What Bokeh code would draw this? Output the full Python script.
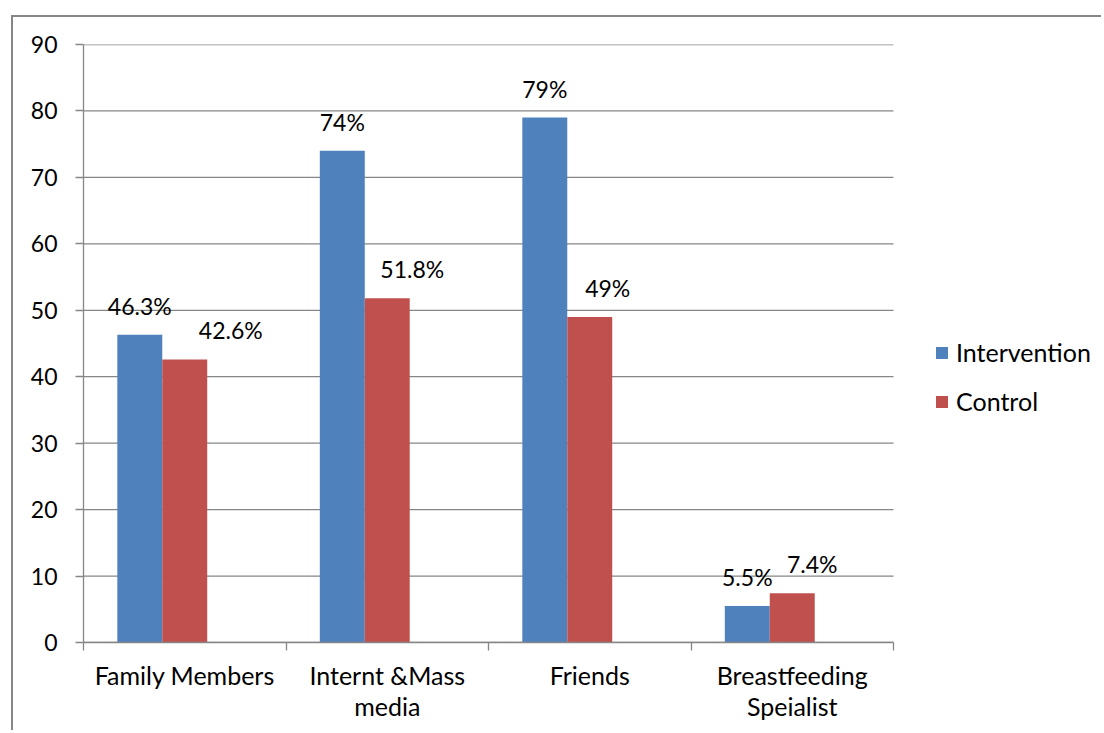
from bokeh.plotting import figure
from bokeh.models import (Range1d, FixedTicker, ColumnDataSource, Legend,
                          LegendItem)
from bokeh.core.properties import value
from bokeh.embed import file_html
from bokeh.resources import INLINE

# Sources of breastfeeding information, % of mothers per group
categories = ["Family Members", "Internt &Mass\nmedia", "Friends", "Breastfeeding\nSpeialist"]
intervention = [46.3, 74, 79, 5.5]
control = [42.6, 51.8, 49, 7.4]
y_ticks = [0, 10, 20, 30, 40, 50, 60, 70, 80, 90]

# small horizontal nudges of the control labels (px)
control_label_shift = [46, 25, 18, 20]

FONT = "Lato"
FS = "23px"
FS_CAT = "25px"
GRAY = "#868686"
BLUE = "#4F81BD"
RED = "#C0504D"

W, H = 1090, 715
BORDER_L, BORDER_R, BORDER_T, BORDER_B = 70, 10, 27, 90
CAT_PX = 202.5  # width of one category on screen

n = len(categories)
slot = 0.222  # bar width in category units
centers = [i + 0.5 for i in range(n)]
# the frame runs on past the last category to hold the legend
x_end = (W - BORDER_L - BORDER_R) / CAT_PX

src_i = ColumnDataSource(dict(
    x=[c - slot for c in centers], top=intervention,
    label=[f"{v:g}%" for v in intervention], dx=[0] * n))
src_c = ColumnDataSource(dict(
    x=centers, top=control,
    label=[f"{v:g}%" for v in control], dx=control_label_shift))

p = figure(width=W, height=H, x_range=Range1d(0, x_end), y_range=Range1d(0, 90),
           output_backend="svg", toolbar_location=None,
           min_border_left=BORDER_L, min_border_right=BORDER_R,
           min_border_top=BORDER_T, min_border_bottom=BORDER_B)
p.margin = (15, 0, 0, 11)
p.styles = {"border-top": f"2px solid {GRAY}", "border-left": f"2px solid {GRAY}"}
p.outline_line_color = None
p.background_fill_color = "white"
p.border_fill_color = "white"

# horizontal gridlines over the category span only
p.segment(x0=[0] * len(y_ticks), x1=[n] * len(y_ticks), y0=y_ticks, y1=y_ticks,
          line_color=GRAY, line_width=1.3)

r_i = p.vbar(x="x", top="top", width=slot, source=src_i, fill_color=BLUE,
             line_color=None)
r_c = p.vbar(x="x", top="top", width=slot, source=src_c, fill_color=RED,
             line_color=None)

for src in (src_i, src_c):
    p.text(x="x", y="top", text="label", source=src, x_offset="dx", y_offset=-29,
           text_align="center", text_baseline="alphabetic",
           text_font=value(FONT), text_font_size=FS, text_color="black")

# y axis
yax = p.yaxis[0]
yax.ticker = FixedTicker(ticks=y_ticks)
yax.axis_line_color = GRAY
yax.axis_line_width = 1.3
yax.major_tick_line_color = GRAY
yax.major_tick_line_width = 1.3
yax.major_tick_out = 8
yax.major_tick_in = 0
yax.minor_tick_line_color = None
yax.major_label_standoff = 18
yax.major_label_text_font = FONT
yax.major_label_text_font_size = FS
yax.major_label_text_color = "black"

# x axis: labels centred in each category, ticks on the category borders
xax = p.xaxis[0]
xax.bounds = (0, n)
xax.ticker = FixedTicker(ticks=centers, minor_ticks=list(range(n + 1)))
xax.major_label_overrides = {c: lab for c, lab in zip(centers, categories)}
xax.axis_line_color = GRAY
xax.axis_line_width = 1.3
xax.major_tick_line_color = None
xax.major_tick_out = 0
xax.major_tick_in = 0
xax.minor_tick_line_color = GRAY
xax.minor_tick_line_width = 1.3
xax.minor_tick_out = 8
xax.minor_tick_in = 0
xax.major_label_standoff = 9
xax.major_label_text_font = FONT
xax.major_label_text_font_size = FS_CAT
xax.major_label_text_color = "black"
xax.major_label_text_line_height = 1.05

p.xgrid.grid_line_color = None
p.ygrid.grid_line_color = None

legend = Legend(items=[LegendItem(label="Intervention", renderers=[r_i]),
                       LegendItem(label="Control", renderers=[r_c])],
                location=(851, 226), orientation="vertical",
                border_line_color=None, background_fill_alpha=0,
                padding=0, margin=0, glyph_width=15, glyph_height=15,
                label_standoff=7, spacing=19, label_height=24,
                label_text_font=FONT, label_text_font_size=FS_CAT,
                label_text_color="black")
p.add_layout(legend)

open("out.html", "w").write(file_html(p, INLINE))
